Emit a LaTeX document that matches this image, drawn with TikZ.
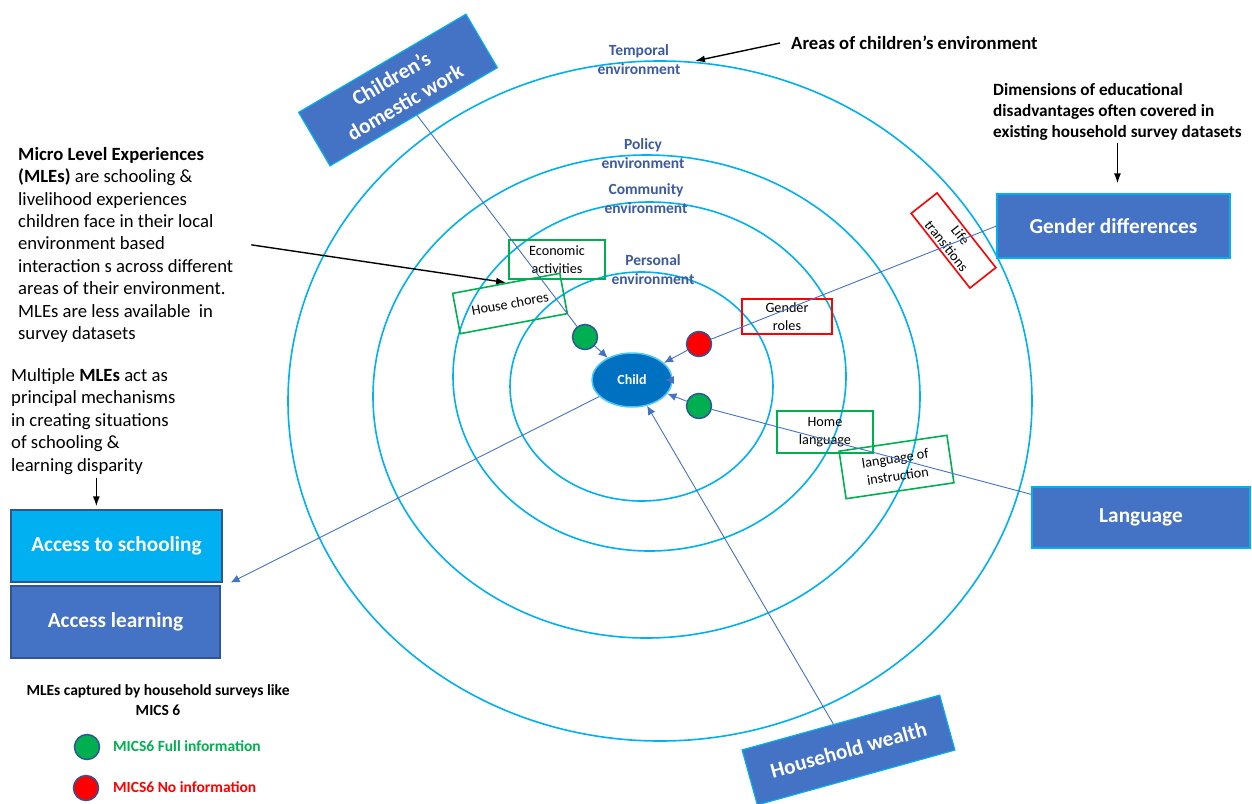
\documentclass[tikz,border=0pt]{standalone}
\usepackage{fontspec}
\setmainfont{Carlito}
\usetikzlibrary{shapes.geometric,arrows.meta,calc}
\definecolor{boxblue}{HTML}{4472C4}
\definecolor{lblue}{HTML}{00B0F0}
\definecolor{dblue}{HTML}{2F5597}
\definecolor{mgreen}{HTML}{00B050}
\definecolor{mred}{HTML}{FF0000}
\definecolor{childblue}{HTML}{0070C0}
\definecolor{lbltext}{HTML}{3C5A9E}
\newcommand{\fsz}[2]{\fontsize{#1}{#2}\selectfont}
\begin{document}
\begin{tikzpicture}[x=1pt,y=-1pt,
  ring/.style={draw=lblue, line width=1.6pt},
  bigbox/.style={rectangle, draw=lblue, line width=1.2pt, fill=boxblue, text=white,
    font=\fsz{21.3}{27.5}\bfseries, align=center, inner sep=0pt},
  mbox/.style={rectangle, line width=1.6pt, inner sep=0pt, align=center, font=\fsz{14.2}{17.6}},
  gbox/.style={mbox, draw=mgreen},
  rbox/.style={mbox, draw=mred},
  envlbl/.style={text=lbltext, font=\fsz{15.5}{19}\bfseries, align=center, inner sep=0pt},
  conn/.style={draw=boxblue, line width=0.9pt},
  arr/.style={conn, -{Latex[length=9pt,width=8pt]}},
  blk/.style={draw=black, line width=1.4pt, -{Latex[length=10pt,width=7pt]}},
  mdot/.style={circle, minimum size=25pt, inner sep=0pt, draw=dblue, line width=1.5pt},
  txt/.style={inner sep=0pt, align=left}
]
\useasboundingbox (0,0) rectangle (1252,803);

% environment rings
\draw[ring] (660,401) ellipse [x radius=372pt, y radius=340pt];
\draw[ring] (646.5,396.5) ellipse [x radius=273.5pt, y radius=241.5pt];
\draw[ring] (649.5,376.5) ellipse [x radius=196.5pt, y radius=174.5pt];
\draw[ring] (641.5,386.5) ellipse [x radius=131.5pt, y radius=114.5pt];

% ring labels
\node[envlbl] (ltemp) at (639,59.5) {Temporal\\environment};
\node[envlbl] (lpol) at (643,154) {Policy\\environment};
\node[envlbl] (lcom) at (646,198.5) {Community\\environment};
\node[envlbl] (lper) at (653,270) {Personal\\environment};

% MLE boxes
\node[gbox, minimum width=96pt, minimum height=39pt] (ea) at (557,259.5) {Economic\\activities};
\node[gbox, minimum width=109pt, minimum height=41pt, rotate=10.6] (hc) at (510,303.5) {House chores};
\node[rbox, minimum width=90pt, minimum height=35pt] (gr) at (787,316.5) {Gender\\roles};
\node[rbox, minimum width=95pt, minimum height=33pt, rotate=-51.8] (lt) at (953.5,240.5) {Life\\transitions};
\node[gbox, minimum width=96pt, minimum height=42pt] (hl) at (825,432) {Home\\language};
\node[gbox, minimum width=109pt, minimum height=48pt, rotate=8.4] (li) at (896.5,467) {language of\\instruction};

% big boxes
\node[bigbox, minimum width=194pt, minimum height=62pt, rotate=30.4] (dw) at (398,90) {Children’s\\domestic work};
\node[bigbox, minimum width=233pt, minimum height=64pt] (gd) at (1113.5,226) {Gender differences};
\node[bigbox, minimum width=218pt, minimum height=61pt] (lang) at (1141,517.5) {Language};
\node[bigbox, minimum width=205pt, minimum height=57pt, rotate=15.5] (hw) at (848.5,750) {Household wealth};
\node[bigbox, fill=lblue, draw=dblue, minimum width=211pt, minimum height=72pt] (as) at (116.5,546) {Access to schooling};
\node[bigbox, draw=dblue, minimum width=209pt, minimum height=72pt] (al) at (115.5,622) {Access learning};

% child and dots
\node[ellipse, minimum width=80pt, minimum height=54pt, fill=childblue, draw=lblue!70, line width=1.5pt,
  text=white, font=\fsz{14}{16}\bfseries, inner sep=0pt] (child) at (632,380) {Child};
\node[mdot, fill=mgreen] (d1) at (585,337) {};
\node[mdot, fill=mred] (dr) at (699,344) {};
\node[mdot, fill=mgreen] (d2) at (699,406) {};

% connectors
\draw[conn] (dw) -- (d1);
\draw[arr] (d1) -- (child);
\draw[conn] (gd.west) -- (dr);
\draw[arr] (dr) -- (child);
\draw[conn] ($(lang.north west)+(0,8)$) -- (d2);
\draw[arr] (d2) -- (child);
\draw[arr] (hw) -- (child);
\draw[arr] (child) -- ($(as.south east)+(8,0)$);
\draw[arr] (child.east) -- ($(child.east)+(-8,0)$);

% texts
\node[txt, anchor=west, font=\fsz{18.67}{22.4}\bfseries] (areas) at (791,43) {Areas of children’s environment};
\coordinate (tc) at (695,61);
\draw[blk] ($(areas.west)+(-11,0)$) -- (tc);

\node[txt, anchor=north west, font=\fsz{17.2}{21}\bfseries] (dim) at (993,83)
  {Dimensions of educational\\disadvantages often covered in\\existing household survey datasets};
\draw[blk] ($(dim.south)+(0,3)$) -- ($(gd.north -| dim.south)+(0,-10)$);

\node[txt, anchor=north west, font=\fsz{18.67}{22.4}] (mle) at (18,147)
  {\textbf{Micro Level Experiences}\\\textbf{(MLEs)} are schooling \&\\livelihood experiences\\children face in their local\\environment based\\interaction s across different\\areas of their environment.\\MLEs are less available\ \ in\\survey datasets};
\draw[blk] ($(mle.east)+(18,0)$) -- (hc.north);

\node[txt, anchor=north west, font=\fsz{18.67}{22.5}] (mult) at (11,368)
  {Multiple \textbf{MLEs} act as\\principal mechanisms\\in creating situations\\of schooling \&\\learning disparity};
\draw[blk] ($(mult.south)+(3,3)$) -- ($(as.north -| mult.south)+(3,-3)$);

% legend
\node[inner sep=0pt, align=center, font=\fsz{15.5}{19.5}\bfseries] (leg) at (158,700)
  {MLEs captured by household surveys like\\MICS 6};
\node[mdot, fill=mgreen] (lg) at (87,747) {};
\node[mdot, fill=mred] (lr) at (86,788) {};
\node[inner sep=0pt, anchor=west, text=mgreen, font=\fsz{15.5}{19}\bfseries] (lgt) at (113,746) {MICS6 Full information};
\node[inner sep=0pt, anchor=west, text=mred, font=\fsz{15.5}{19}\bfseries] (lrt) at (113,787) {MICS6 No information};
\end{tikzpicture}
\end{document}
